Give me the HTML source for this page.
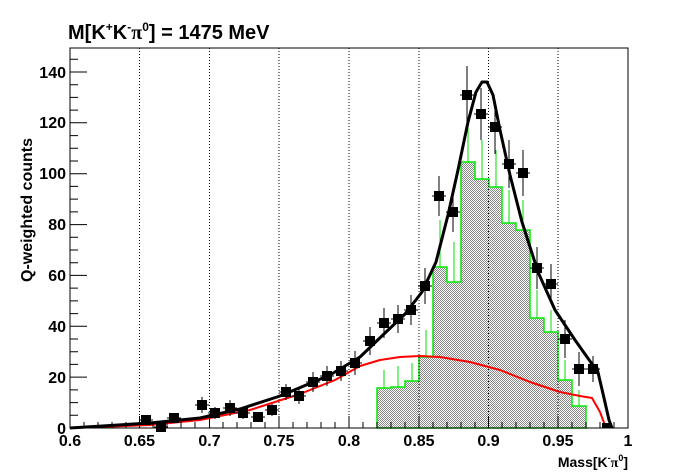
<!DOCTYPE html>
<html><head><style>body{margin:0;background:#fff}svg{display:block}</style></head>
<body>
<svg width="698" height="476" viewBox="0 0 698 476" xmlns="http://www.w3.org/2000/svg" font-family="Liberation Sans, sans-serif">
<defs>
<pattern id="h" width="2" height="2" patternUnits="userSpaceOnUse"><rect width="2" height="2" fill="#ffffff"/><rect width="1" height="1" fill="#888"/><rect x="1" y="1" width="1" height="1" fill="#888"/></pattern>
</defs>
<rect width="698" height="476" fill="#fff"/>
<text x="68" y="39" font-size="20" font-weight="bold">M[K<tspan dy="-8" font-size="12">+</tspan><tspan dy="8">K</tspan><tspan dy="-8" font-size="12">-</tspan><tspan dy="8" font-family="Liberation Serif, serif">π</tspan><tspan dy="-8" font-size="12">0</tspan><tspan dy="8">] = 1475 MeV</tspan></text>
<path d="M377,428 V388 H391 V387 H405 V381 H419 V357 H433 V267 H447 V282 H461 V162 H475 V179 H489 V187 H502 V223 H516 V230 H530 V318 H544 V332 H558 V380 H572 V406 H586 V428 Z" fill="url(#h)" stroke="#00ee00" stroke-width="1.5"/>
<g stroke="#00dd00" stroke-width="1">
<path d="M384,388V370M398,387V366M412,381V363M426,357V330M440,267V220M454,282V242M468,162V120M482,179V140M496,187V150M509,223V190M523,230V200M537,318V290M551,332V310M565,380V360M579,406V390"/>
</g>
<g stroke="#000" stroke-width="1" stroke-dasharray="1,2">
<path d="M139.5,48V428M209.5,48V428M279,48V428M349,48V428M419,48V428M488.5,48V428M558,48V428"/>
</g>
<path d="M70,428 L150,425 L200,420 L250,410 L300,394 L335,380 L360,366 L380,360 L400,357 L420,356 L440,357 L470,362 L500,370 L530,382 L560,392 L580,396 L592,398 L600,412 L606,428" fill="none" stroke="#ff0000" stroke-width="2" stroke-linejoin="round"/>
<path d="M70,428 L150,423 L200,418 L240,409 L280,396 L330,375 L360,357 L385,333 L405,314 L422,292 L436,262 L448,215 L458,170 L468,122 L476,92 L482,82 L487,82 L493,95 L500,130 L510,175 L522,222 L538,272 L555,310 L575,340 L592,364 L597,368 L604,398 L609,420 L612,428" fill="none" stroke="#000" stroke-width="3" stroke-linejoin="round"/>
<g stroke="#000" stroke-width="1" fill="#000">
<path d="M139,420H153M146,415V425 M154,427H168 M167,418H181M174,413V423 M195,405H209M202,397V413 M208,413H222M215,407V419 M223,408H237M230,400V416 M236,413H250M243,407V419 M251,417H265M258,412V422 M265,410H279M272,404V416 M279,392H293M286,384V400 M292,396H306M299,388V404 M306,382H320M313,372V392 M320,376H334M327,366V386 M334,371H348M341,361V381 M348,363H362M355,351V375 M363,341H377M370,327V355 M377,323H391M384,308V338 M391,319H405M398,305V333 M404,310H418M411,295V325 M418,286H432M425,268V304 M432,196H446M439,176V216 M446,212H460M453,192V232 M460,95H474M467,66V124 M474,114H488M481,88V140 M488,127H502M495,100V154 M502,164H516M509,140V188 M516,173H530M523,150V196 M530,268H544M537,247V289 M544,284H558M551,264V304 M558,339H572M565,320V358 M572,369H586M579,352V386 M586,369H600M593,356V382 M600,428H614"/>
<path d="M141,415h10v10h-10zM156,422h10v10h-10zM169,413h10v10h-10zM197,400h10v10h-10zM210,408h10v10h-10zM225,403h10v10h-10zM238,408h10v10h-10zM253,412h10v10h-10zM267,405h10v10h-10zM281,387h10v10h-10zM294,391h10v10h-10zM308,377h10v10h-10zM322,371h10v10h-10zM336,366h10v10h-10zM350,358h10v10h-10zM365,336h10v10h-10zM379,318h10v10h-10zM393,314h10v10h-10zM406,305h10v10h-10zM420,281h10v10h-10zM434,191h10v10h-10zM448,207h10v10h-10zM462,90h10v10h-10zM476,109h10v10h-10zM490,122h10v10h-10zM504,159h10v10h-10zM518,168h10v10h-10zM532,263h10v10h-10zM546,279h10v10h-10zM560,334h10v10h-10zM574,364h10v10h-10zM588,364h10v10h-10zM602,423h10v5h-10z" stroke="none"/>
</g>
<rect x="70" y="48" width="558" height="380" fill="none" stroke="#000" stroke-width="1"/>
<g stroke="#000" stroke-width="1">
<path d="M70,428v-12M139.5,428v-12M209.5,428v-12M279,428v-12M349,428v-12M419,428v-12M488.5,428v-12M558,428v-12M628,428v-12"/>
<path d="M84,428v-6M98,428v-6M112,428v-6M126,428v-6M153,428v-6M167,428v-6M181,428v-6M195,428v-6M223,428v-6M237,428v-6M251,428v-6M265,428v-6M293,428v-6M307,428v-6M321,428v-6M335,428v-6M363,428v-6M377,428v-6M391,428v-6M405,428v-6M433,428v-6M447,428v-6M461,428v-6M475,428v-6M502,428v-6M516,428v-6M530,428v-6M544,428v-6M572,428v-6M586,428v-6M600,428v-6M614,428v-6"/>
<path d="M70,428h17M70,377.1h17M70,326.3h17M70,275.4h17M70,224.6h17M70,173.7h17M70,122.8h17M70,72h17"/>
<path d="M70,415.3h8M70,402.6h8M70,389.9h8M70,364.4h8M70,351.7h8M70,339h8M70,313.6h8M70,300.9h8M70,288.1h8M70,262.7h8M70,250h8M70,237.3h8M70,211.9h8M70,199.1h8M70,186.4h8M70,161h8M70,148.3h8M70,135.6h8M70,110.1h8M70,97.4h8M70,84.7h8M70,59.3h8"/>
</g>
<g font-size="16" font-weight="bold" text-anchor="middle">
<text x="70" y="446">0.6</text><text x="139.5" y="446">0.65</text><text x="209.5" y="446">0.7</text><text x="279" y="446">0.75</text><text x="349" y="446">0.8</text><text x="419" y="446">0.85</text><text x="488.5" y="446">0.9</text><text x="558" y="446">0.95</text><text x="628" y="446">1</text>
</g>
<g font-size="16" font-weight="bold" text-anchor="end">
<text x="66" y="434">0</text><text x="66" y="383">20</text><text x="66" y="332">40</text><text x="66" y="281">60</text><text x="66" y="230">80</text><text x="66" y="179">100</text><text x="66" y="128">120</text><text x="66" y="78">140</text>
</g>
<text x="628" y="467" font-size="14" font-weight="bold" text-anchor="end">Mass[K<tspan dy="-6" font-size="9">-</tspan><tspan dy="6" font-family="Liberation Serif, serif">π</tspan><tspan dy="-6" font-size="9">0</tspan><tspan dy="6">]</tspan></text>
<text transform="translate(32,210) rotate(-90)" font-size="16" font-weight="bold" text-anchor="middle">Q-weighted counts</text>
</svg>
</body></html>
